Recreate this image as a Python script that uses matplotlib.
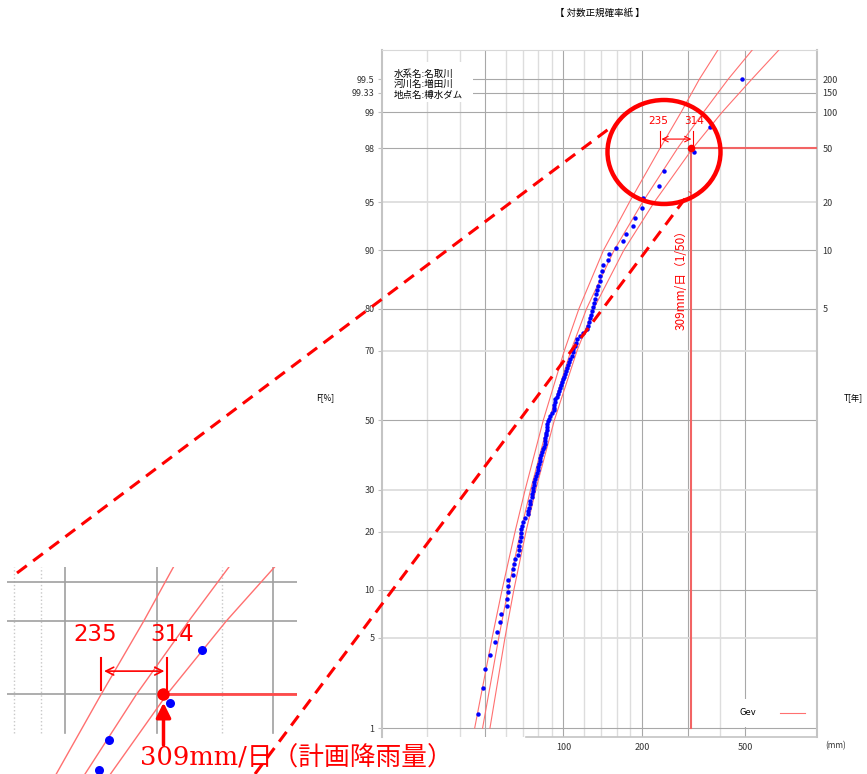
import numpy as np
import matplotlib.pyplot as plt
from matplotlib.patches import Ellipse, Rectangle
from statistics import NormalDist

plt.rcParams['font.family'] = ['Noto Sans CJK JP', 'DejaVu Sans']

# 日雨量 (mm) 昇順
rain = np.array([
    44.0, 46.8, 49.2, 50.1, 52.1, 54.6, 55.7, 56.9, 57.4, 60.8,
    60.8, 61.3, 61.3, 61.3, 63.8, 64.2, 64.6, 65.1, 67.1, 67.3,
    67.5, 67.9, 68.4, 68.6, 68.8, 69.4, 70.1, 71.0, 72.8, 73.1,
    73.6, 74.1, 74.6, 75.4, 75.9, 76.3, 76.5, 76.8, 77.3, 77.5,
    78.5, 79.1, 79.7, 80.1, 80.8, 81.3, 81.6, 82.2, 82.7, 83.4,
    84.2, 84.8, 85.1, 85.2, 85.6, 85.9, 86.1, 86.4, 86.7, 87.1,
    88.0, 88.4, 90.3, 91.6, 91.9, 92.1, 92.5, 93.1, 94.4, 95.3,
    96.1, 97.0, 97.8, 98.7, 99.6, 100.5, 101.4, 102.3, 103.2, 104.1,
    105.0, 106.0, 107.4, 108.8, 109.2, 110.7, 111.7, 112.4, 116.1, 118.9,
    122.9, 124.3, 125.8, 126.5, 127.3, 128.4, 130.3, 131.1, 132.3, 133.1,
    134.3, 135.6, 137.6, 138.2, 140.3, 141.5, 148.7, 150.1, 159.2, 169.4,
    174.5, 184.4, 188.4, 199.9, 202.9, 233.0, 243.4, 317.6, 365.6, 485.0,
])

# Gev 当てはめ線と信頼区間 (非超過確率 % と雨量 mm)
fit_F = [1, 5, 10, 20, 30, 50, 70, 80, 90, 95, 98, 99, 99.5, 99.8]
gev_mid = [48.9, 56.4, 61.3, 68.5, 74.8, 88.0, 106.8, 122.7, 156.4, 201.1,
           274.5, 345.3, 429.8, 575.5]
gev_lo = [45.6, 53.2, 58.1, 65.2, 71.3, 83.7, 100.8, 114.7, 142.4, 179.1,
          235.0, 283.3, 333.0, 417.0]
gev_hi = [52.2, 59.6, 64.5, 71.8, 78.3, 92.3, 112.8, 130.7, 170.4, 223.1,
          314.0, 407.3, 529.8, 735.5]

plan_rain = 309     # 計画降雨量 (1/50)
plan_F = 98
ci_lo, ci_hi = 235, 314

F_ticks = [1, 5, 10, 20, 30, 50, 70, 80, 90, 95, 98, 99, 99.33, 99.5]
F_labels = ['1', '5', '10', '20', '30', '50', '70', '80', '90', '95', '98', '99', '99.33', '99.5']
T_ticks = [5, 10, 20, 50, 100, 150, 200]
x_ticks = [100, 200, 500]
site_info = ['水系名:名取川', '河川名:増田川', '地点名:樽水ダム']

# 確率紙の縦軸 (正規分位点)
nd = NormalDist()
_ppf = np.vectorize(nd.inv_cdf, otypes=[float])
_cdf = np.vectorize(nd.cdf, otypes=[float])


def to_z(f):
    f = np.clip(np.asarray(f, dtype=float) / 100, 1e-9, 1 - 1e-9)
    return _ppf(f)


def from_z(z):
    return _cdf(np.asarray(z, dtype=float)) * 100


# Cunnane プロット位置
n = len(rain)
F = (np.arange(1, n + 1) - 0.4) / (n + 0.2) * 100

W, H = 867, 774
fig = plt.figure(figsize=(W / 100, H / 100), dpi=100)


def fx(px):
    return px / W


def fy(py):
    return 1 - py / H


red = '#ff0000'
line_red = '#ff7070'
dark_grid = '#a8a8a8'
light_grid = '#dddddd'

# ---- 確率紙本体 ----
ax = fig.add_axes([fx(381.5), fy(737), (817 - 381.5) / W, (737 - 50) / H])
ax.set_xscale('log')
ax.set_yscale('function', functions=(to_z, from_z))
ax.set_xlim(20, 942)
ax.set_ylim(float(from_z(-2.3935)), float(from_z(2.7953)))

for v in [30, 40, 60, 70, 80, 90, 120, 140, 160, 180, 400]:
    ax.axvline(v, color=light_grid, lw=1.0, zorder=1)
for v in [50, 100, 200, 300, 500]:
    ax.axvline(v, color=dark_grid, lw=0.8, zorder=1)
for f in [5, 20, 30, 70, 95]:
    ax.axhline(f, color=light_grid, lw=1.3, zorder=1)
for f in [1, 10, 50, 80, 90, 98, 99]:
    ax.axhline(f, color=dark_grid, lw=0.8, zorder=1)
for f in [99.33, 99.5]:
    ax.axhline(f, xmin=0.21, color=dark_grid, lw=0.8, zorder=1)

for vals in (gev_lo, gev_mid, gev_hi):
    ax.plot(vals, fit_F, color=line_red, lw=0.8, zorder=3)

ax.plot(rain, F, 'o', color='#0000ff', ms=3.2, mec='none', zorder=4)

ax.plot([plan_rain, plan_rain], [1, plan_F], color='#f26464', lw=1.5, zorder=3)
ax.plot([plan_rain, 942], [plan_F, plan_F], color='#f26464', lw=1.5, zorder=3)
ax.plot([plan_rain], [plan_F], 'o', color=red, ms=5.5, mec='none', zorder=5)

ax.plot([ci_lo, ci_lo], [98.04, 98.55], color=red, lw=0.8, zorder=5)
ax.plot([ci_hi, ci_hi], [98.04, 98.55], color=red, lw=0.8, zorder=5)
ax.annotate('', xy=(ci_lo, 98.31), xytext=(ci_hi, 98.31),
            arrowprops=dict(arrowstyle='<->', color=red, lw=0.8,
                            shrinkA=1, shrinkB=1), zorder=5)
ax.text(ci_lo * 0.985, 98.8, '235', color=red, fontsize=7.5,
        ha='center', va='center', family='DejaVu Sans')
ax.text(ci_hi * 1.01, 98.8, '314', color=red, fontsize=7.5,
        ha='center', va='center', family='DejaVu Sans')

# 地点情報
ax.add_patch(Rectangle((0.003, 0.925), 0.207, 0.058, transform=ax.transAxes,
                       fc='white', ec='none', zorder=2))
for k, s in enumerate(site_info):
    fig.text(fx(394), fy(74 + 10.5 * k), s, fontsize=6.8, va='center',
             ha='left', zorder=3)

# 凡例
ax.add_patch(Rectangle((0.807, 0.0146), 0.19, 0.041, transform=ax.transAxes,
                       fc='white', ec='none', zorder=2))
ax.text(0.823, 0.035, 'Gev', transform=ax.transAxes, fontsize=6,
        va='center', family='DejaVu Sans', zorder=3)
ax.plot([0.915, 0.973], [0.035, 0.035], transform=ax.transAxes,
        color=line_red, lw=0.8, zorder=3)

ax.set_yticks(F_ticks)
ax.set_yticklabels(F_labels)
ax.yaxis.set_minor_locator(plt.NullLocator())
ax.set_xticks(x_ticks)
ax.set_xticklabels([str(v) for v in x_ticks])
ax.xaxis.set_minor_locator(plt.NullLocator())
ax.tick_params(axis='y', length=3, width=0.8, color='#c0c0c0', pad=2,
               labelsize=6.5, labelcolor='#333333')
ax.tick_params(axis='x', length=0, pad=4, labelsize=6.5, labelcolor='#333333')

for side in ['left', 'right']:
    ax.spines[side].set_color('#c4c4c4')
    ax.spines[side].set_linewidth(1.5)
ax.spines['top'].set_color('#d8d8d8')
ax.spines['top'].set_linewidth(0.8)
ax.spines['bottom'].set_color('#c4c4c4')
ax.spines['bottom'].set_linewidth(1.2)
ax.spines['bottom'].set_bounds(72, 942)

ax2 = ax.twinx()
ax2.set_yscale('function', functions=(to_z, from_z))
ax2.set_ylim(ax.get_ylim())
ax2.set_yticks([100 * (1 - 1 / t) for t in T_ticks])
ax2.set_yticklabels([str(t) for t in T_ticks])
ax2.yaxis.set_minor_locator(plt.NullLocator())
ax2.tick_params(axis='y', length=0, pad=4, labelsize=6.5, labelcolor='#333333')
for s in ax2.spines.values():
    s.set_visible(False)

fig.text(fx(600), fy(13), '【 対数正規確率紙 】', fontsize=6.8,
         ha='center', va='center')
fig.text(fx(325), fy(398), 'F[%]', fontsize=6, ha='center', va='center')
fig.text(fx(853), fy(398), 'T[年]', fontsize=6, ha='center', va='center')
fig.text(fx(836), fy(746), '(mm)', fontsize=6, ha='center', va='center',
         color='#333333')
fig.text(fx(681), fy(277), '309mm/日（1/50）', fontsize=8.5, color=red,
         rotation=90, ha='center', va='center')

# ---- 拡大図 ----
axi = fig.add_axes([fx(7), 0, 290 / W, (774 - 567) / H])
axi.set_xscale('log')
axi.set_yscale('function', functions=(to_z, from_z))
axi.set_xlim(155.2, 556)
axi.set_ylim(float(from_z(1.7555)), float(from_z(2.528)))
axi.axis('off')

g_bot = (774 - 733) / (774 - 567)
for v in [160, 180, 400]:
    axi.axvline(v, ymin=g_bot, color='#c8c8c8', lw=1.0, ls=':', zorder=1)
for v in [200, 300, 500]:
    axi.axvline(v, ymin=g_bot, color='#a0a0a0', lw=1.2, zorder=1)
for f in [98, 99, 99.33]:
    axi.axhline(f, color='#a0a0a0', lw=1.2, zorder=1)

for vals in (gev_lo, gev_mid, gev_hi):
    axi.plot(vals, fit_F, color=line_red, lw=1.0, zorder=3)
axi.plot(rain, F, 'o', color='#0000ff', ms=6.5, mec='none', zorder=4)
axi.plot([plan_rain, 600], [plan_F, plan_F], color='#ff4a4a', lw=2.0, zorder=3)
axi.plot([plan_rain], [plan_F], 'o', color=red, ms=9, mec='none', zorder=5)

axi.plot([ci_lo, ci_lo], [98.07, 98.57], color=red, lw=1.5, zorder=5)
axi.plot([ci_hi, ci_hi], [98.07, 98.57], color=red, lw=1.5, zorder=5)
axi.annotate('', xy=(ci_lo, 98.38), xytext=(ci_hi, 98.38),
             arrowprops=dict(arrowstyle='<->', color=red, lw=1.2,
                             mutation_scale=14, shrinkA=2, shrinkB=2), zorder=5)
axi.text(ci_lo * 0.975, 98.86, '235', color=red, fontsize=16.5,
         ha='center', va='center', family='DejaVu Sans')
axi.text(ci_hi * 1.02, 98.86, '314', color=red, fontsize=16.5,
         ha='center', va='center', family='DejaVu Sans')
axi.annotate('', xy=(plan_rain, 97.84), xytext=(plan_rain, 96.88),
             arrowprops=dict(arrowstyle='-|>', color=red, lw=2.5,
                             mutation_scale=22, shrinkA=0, shrinkB=0), zorder=5)

fig.text(fx(140), fy(758), '309mm/日（計画降雨量）', fontsize=18.5, color=red,
         ha='left', va='center', family=['DejaVu Serif', 'Noto Sans CJK JP'],
         zorder=6)

# ---- 拡大の引き出し線 ----
ov = fig.add_axes([0, 0, 1, 1], zorder=10)
ov.set_xlim(0, W)
ov.set_ylim(H, 0)
ov.axis('off')
ov.patch.set_alpha(0)
ov.plot([17, 610], [573, 128], color=red, lw=2.2, ls=(0, (4, 2.6)))
ov.plot([255, 690], [774, 192], color=red, lw=2.2, ls=(0, (4, 2.6)))
ov.add_patch(Ellipse((664, 152), 113, 104, fill=False, ec=red, lw=3.2))

fig.savefig('out.png', dpi=100)
